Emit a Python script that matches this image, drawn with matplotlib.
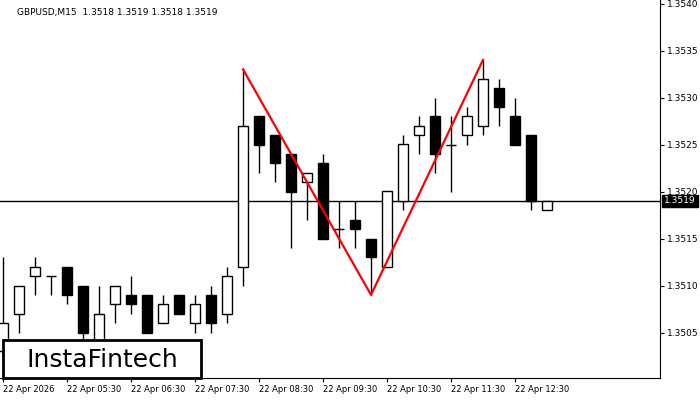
import matplotlib
matplotlib.use("Agg")
import matplotlib.pyplot as plt
from matplotlib.patches import Rectangle

opens  = [1.3503,1.3507,1.3511,1.3511,1.3512,1.3510,1.3504,1.3508,1.3509,1.3509,1.3506,1.3509,1.3506,1.3509,1.3507,
          1.3512,1.3528,1.3526,1.3524,1.3521,1.3523,1.3516,1.3517,1.3515,1.3512,1.3519,1.3526,1.3528,1.3525,1.3526,
          1.3527,1.3531,1.3528,1.3526,1.3518]
closes = [1.3506,1.3510,1.3512,1.3511,1.3509,1.3505,1.3507,1.3510,1.3508,1.3505,1.3508,1.3507,1.3508,1.3506,1.3511,
          1.3527,1.3525,1.3523,1.3520,1.3522,1.3515,1.3516,1.3516,1.3513,1.3520,1.3525,1.3527,1.3524,1.3525,1.3528,
          1.3532,1.3529,1.3525,1.3519,1.3519]
highs  = [1.3513,1.3510,1.3513,1.3511,1.3512,1.3510,1.3510,1.3510,1.3511,1.3509,1.3509,1.3509,1.3509,1.3510,1.3512,
          1.3533,1.3528,1.3526,1.3524,1.3522,1.3524,1.3519,1.3519,1.3515,1.3520,1.3526,1.3528,1.3530,1.3528,1.3529,
          1.3534,1.3532,1.3530,1.3526,1.3519]
lows   = [1.3502,1.3505,1.3509,1.3509,1.3508,1.3504,1.3503,1.3506,1.3507,1.3505,1.3506,1.3507,1.3505,1.3505,1.3506,
          1.3510,1.3522,1.3521,1.3514,1.3517,1.3515,1.3514,1.3514,1.3509,1.3512,1.3518,1.3524,1.3522,1.3520,1.3525,
          1.3526,1.3527,1.3525,1.3518,1.3518]
pattern_idx = [15, 23, 30]
pattern_px = [1.3533, 1.3509, 1.3534]
current = 1.3519
xtick_idx = [0, 4, 8, 12, 16, 20, 24, 28, 32]
xtick_labels = ["22 Apr 2026", "22 Apr 05:30", "22 Apr 06:30", "22 Apr 07:30", "22 Apr 08:30",
                "22 Apr 09:30", "22 Apr 10:30", "22 Apr 11:30", "22 Apr 12:30"]
yticks = [1.3505, 1.3510, 1.3515, 1.3520, 1.3525, 1.3530, 1.3535, 1.3540]

fig = plt.figure(figsize=(7, 4), dpi=100)
ax = fig.add_axes([0, 1 - 378/400, 660/700, 378/400])
pip_px = 9.4
ax.set_ylim(1.3535 - (378 - 50.5) / pip_px * 0.0001, 1.3535 + 50.5 / pip_px * 0.0001)
ax.set_xlim(-3/16, 657/16)

w = 0.6
for i, (o, c, h, l) in enumerate(zip(opens, closes, highs, lows)):
    ax.vlines(i, l, h, color="black", lw=1, zorder=2)
    bot, top = min(o, c), max(o, c)
    if top - bot < 1e-9:
        ax.hlines(o, i - w/2, i + w/2, color="black", lw=1, zorder=3)
    else:
        ax.add_patch(Rectangle((i - w/2, bot), w, top - bot,
                               facecolor="white" if c > o else "black",
                               edgecolor="black", lw=1, zorder=3))

ax.axhline(current, color="black", lw=1, zorder=1)
ax.plot(pattern_idx, pattern_px, color="red", lw=1.6, zorder=4)

ax.yaxis.tick_right()
ax.set_yticks(yticks)
ax.set_yticklabels([f"{v:.4f}" for v in yticks], fontsize=6.5)
ax.set_xticks(xtick_idx)
ax.set_xticklabels(xtick_labels, fontsize=6, ha="left")
ax.tick_params(axis="both", length=3, pad=2)
for s in ["top", "left"]:
    ax.spines[s].set_visible(False)
ax.annotate(f"{current:.4f}", xy=(1, current), xycoords=("axes fraction", "data"),
            xytext=(3, 0), textcoords="offset points", va="center", ha="left",
            fontsize=6.5, color="white",
            bbox=dict(boxstyle="square,pad=0.2", fc="black", ec="black"))
ax.text(17/660, 1 - 8/378, "GBPUSD,M15  1.3518 1.3519 1.3518 1.3519", transform=ax.transAxes,
        fontsize=6.5, va="top", ha="left")
fig.patches.append(Rectangle((3/700, 1 - 378/400), 198/700, 38/400, transform=fig.transFigure,
                             fc="white", ec="black", lw=2, zorder=5))
fig.text(102/700, 1 - 360/400, "InstaFintech", fontsize=18, va="center", ha="center", zorder=6)
fig.savefig("out.png", dpi=100)
